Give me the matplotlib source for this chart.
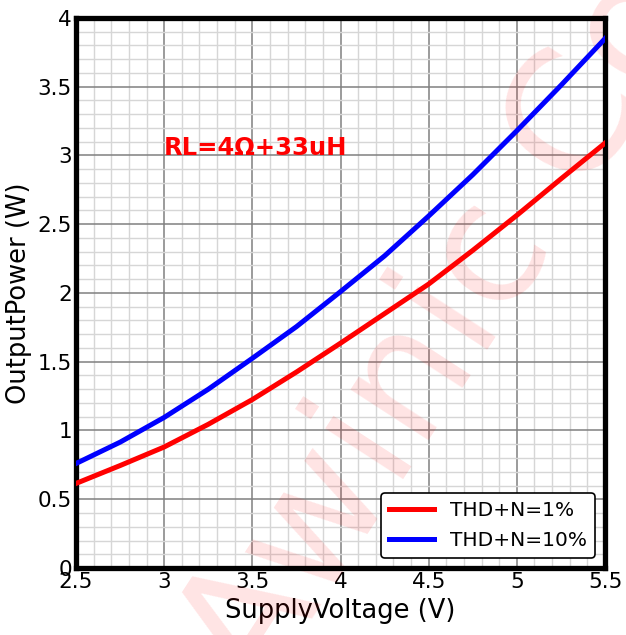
import matplotlib.pyplot as plt
from matplotlib.ticker import MultipleLocator

# supply voltage (V)
voltage = [2.5, 2.75, 3.0, 3.25, 3.5, 3.75, 4.0, 4.25, 4.5, 4.75, 5.0, 5.25, 5.5]
# output power (W)
thd_1 = [0.615, 0.745, 0.88, 1.045, 1.225, 1.425, 1.635, 1.85, 2.065, 2.31, 2.565, 2.83, 3.09]
thd_10 = [0.76, 0.915, 1.095, 1.30, 1.525, 1.755, 2.01, 2.27, 2.56, 2.86, 3.18, 3.51, 3.85]

x_ticks = [2.5, 3, 3.5, 4, 4.5, 5, 5.5]
x_labels = ["2.5", "3", "3.5", "4", "4.5", "5", "5.5"]
y_ticks = [0, 0.5, 1, 1.5, 2, 2.5, 3, 3.5, 4]
y_labels = ["0", "0.5", "1", "1.5", "2", "2.5", "3", "3.5", "4"]

fig = plt.figure(figsize=(6.26, 6.35), dpi=100)
ax = fig.add_axes([0.1214, 0.1055, 0.8451, 0.8662])

ax.plot(voltage, thd_1, color="red", lw=3.6, label="THD+N=1%",
        solid_joinstyle="round", zorder=3)
ax.plot(voltage, thd_10, color="blue", lw=3.6, label="THD+N=10%",
        solid_joinstyle="round", zorder=3)

ax.set_xlim(2.5, 5.5)
ax.set_ylim(0, 4)
ax.set_xticks(x_ticks)
ax.set_xticklabels(x_labels)
ax.set_yticks(y_ticks)
ax.set_yticklabels(y_labels)
ax.xaxis.set_minor_locator(MultipleLocator(0.1))
ax.yaxis.set_minor_locator(MultipleLocator(0.1))

ax.grid(which="minor", color="#d6d6d6", lw=1.0)
ax.grid(which="major", color="#808080", lw=1.1)
ax.set_axisbelow(True)
ax.tick_params(which="both", length=0, labelsize=15.5, pad=3)

for s in ax.spines.values():
    s.set_linewidth(3.8)
    s.set_color("black")

ax.set_xlabel("SupplyVoltage (V)", fontsize=18.5, labelpad=4)
ax.set_ylabel("OutputPower (W)", fontsize=18.5, labelpad=4)

ax.text(3.0, 3.0, "RL=4Ω+33uH", color="red", fontsize=17.5, fontweight="bold",
        ha="left", va="baseline", zorder=4)

# watermark
ax.text(0.415, -0.102, "Awinic Confidential", transform=fig.transFigure,
        fontsize=122, color="red", alpha=0.11, rotation=57,
        rotation_mode="anchor", ha="left", va="baseline",
        clip_on=False, zorder=1.5)

leg = ax.legend(loc="lower right", fontsize=14.5, frameon=True, fancybox=True,
                edgecolor="black", framealpha=1, handlelength=2.2,
                borderaxespad=0.5, labelspacing=0.55)
leg.get_frame().set_linewidth(1.2)
leg.set_zorder(5)

fig.savefig("out.png", dpi=100)
